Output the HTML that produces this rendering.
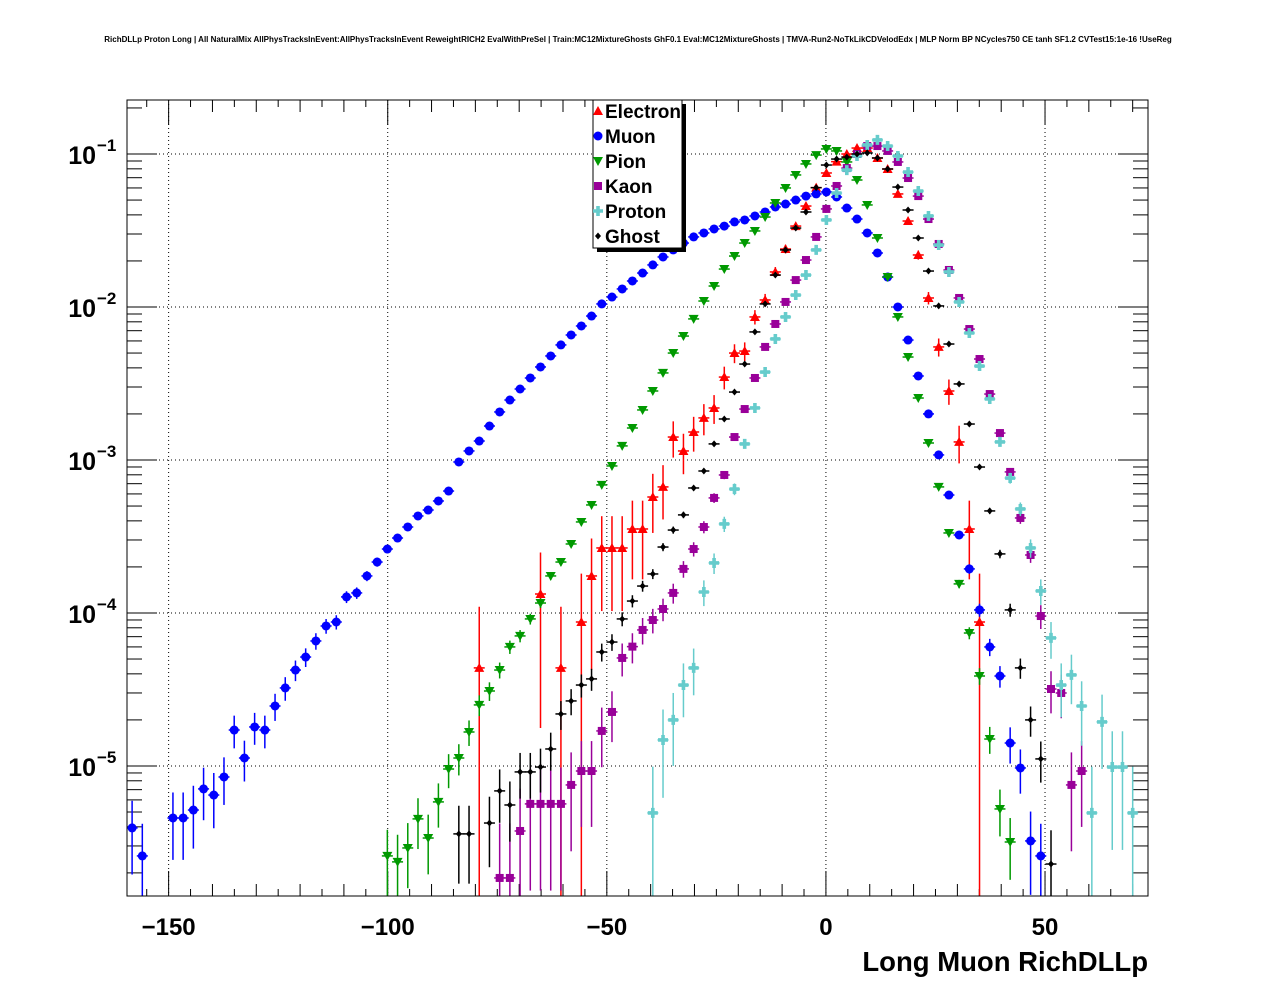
<!DOCTYPE html>
<html><head><meta charset="utf-8"><style>
body{margin:0;background:#fff;}
svg text{font-family:"Liberation Sans",sans-serif;font-weight:bold;}
</style></head><body>
<svg id="chart" width="1276" height="996" xmlns="http://www.w3.org/2000/svg">
<rect width="1276" height="996" fill="#fff"/>
<text x="638" y="42" font-size="8" text-anchor="middle">RichDLLp Proton Long | All NaturalMix AllPhysTracksInEvent:AllPhysTracksInEvent ReweightRICH2 EvalWithPreSel | Train:MC12MixtureGhosts GhF0.1 Eval:MC12MixtureGhosts | TMVA-Run2-NoTkLikCDVelodEdx | MLP Norm BP NCycles750 CE tanh SF1.2 CVTest15:1e-16 !UseReg</text>
<g id="grid"></g>
<g id="axes"></g>
<g id="marks"></g>
<rect x="127" y="100" width="1021" height="796" fill="none" stroke="#000" stroke-width="1"/>
<text x="1148" y="971" font-size="27.5" text-anchor="end">Long Muon RichDLLp</text>
<g id="legend"></g>
</svg>
<script>
// ---- data (log10 of normalized entries per bin; bin index -> x center) ----
const nBins = 100;
const xMinVal = -159.5;
const xMaxVal = 73.5;
const xTicks = [-150, -100, -50, 0, 50];
const yDecades = [-5, -4, -3, -2, -1];
const seriesNames = ["Electron","Muon","Pion","Kaon","Proton","Ghost"];
const electronStart = 34;
const electronLog10 = [-4.359,null,null,null,null,null,-3.876,null,-4.359,null,-4.059,-3.758,-3.575,-3.575,-3.575,-3.451,-3.451,-3.242,-3.176,-2.850,-2.941,-2.817,-2.725,-2.660,-2.458,-2.301,-2.288,-2.065,-1.954,-1.771,-1.621,-1.471,-1.340,-1.22,-1.124,-1.05,-1.000,-0.961,-0.961,-1.026,-1.098,-1.261,-1.438,-1.660,-1.941,-2.261,-2.549,-2.882,-3.451,-4.059];
const muonStart = 0;
const muonLog10 = [-5.405,-5.588,null,null,-5.340,-5.340,-5.288,-5.150,-5.190,-5.072,
-4.765,-4.948,-4.745,-4.765,-4.608,-4.490,-4.373,-4.288,-4.183,-4.085,
-4.059,-3.895,-3.869,-3.758,-3.667,-3.582,-3.510,-3.438,-3.366,-3.327,
-3.268,-3.203,-3.013,-2.941,-2.876,-2.778,-2.686,-2.608,-2.536,-2.464,
-2.392,-2.320,-2.248,-2.183,-2.124,-2.059,-1.980,-1.935,-1.882,-1.830,
-1.778,-1.725,-1.673,-1.627,-1.582,-1.542,-1.516,-1.490,-1.471,-1.444,
-1.431,-1.405,-1.379,-1.346,-1.327,-1.301,-1.275,-1.261,-1.248,-1.281,
-1.353,-1.425,-1.516,-1.647,-1.804,-2.000,-2.216,-2.451,-2.699,-2.967,
-3.229,-3.490,-3.712,-3.980,-4.222,-4.412,-4.850,-5.013,-5.490,-5.588];
const pionStart = 25;
const pionLog10 = [-5.588,-5.627,-5.536,-5.346,-5.471,
-5.235,-5.020,-4.948,-4.778,-4.601,-4.510,-4.373,-4.222,-4.150,-4.039,
-3.935,-3.758,-3.667,-3.549,-3.405,-3.294,-3.163,-3.039,-2.908,-2.791,
-2.673,-2.549,-2.431,-2.301,-2.190,-2.078,-1.961,-1.863,-1.752,-1.667,
-1.582,-1.503,-1.412,-1.320,-1.222,-1.137,-1.065,-1.007,-0.967,-0.980,
-1.052,-1.170,-1.333,-1.549,-1.804,-2.065,-2.327,-2.595,-2.889,-3.176,
-3.477,-3.810,-4.131,-4.412,-4.824,-5.281,-5.497];
const kaonStart = 36;
const kaonLog10 = [-5.732,-5.732,-5.425,-5.248,-5.248,-5.248,-5.248,-5.124,-5.033,-5.033,
-4.771,-4.647,-4.294,-4.22,-4.111,-4.046,-3.974,-3.869,-3.712,-3.582,
-3.438,-3.248,-3.098,-2.850,-2.667,-2.464,-2.261,-2.111,-1.967,-1.824,
-1.693,-1.542,-1.359,-1.209,-1.092,-1.000,-0.948,-0.948,-0.980,-1.052,
-1.157,-1.275,-1.425,-1.588,-1.758,-1.941,-2.144,-2.340,-2.569,-2.824,
-3.078,-3.379,-3.621,-4.020,-4.497,-4.523,-5.124,-5.033];
const protonStart = 51;
const protonLog10 = [-5.307,-4.830,-4.699,-4.471,-4.359,-3.863,-3.673,-3.418,-3.190,
-2.895,-2.660,-2.425,-2.209,-2.065,-1.922,-1.791,-1.627,-1.431,-1.255,
-1.105,-1.013,-0.941,-0.908,-0.948,-1.013,-1.118,-1.242,-1.405,-1.595,
-1.771,-1.967,-2.170,-2.386,-2.601,-2.882,-3.118,-3.320,-3.575,-3.856,
-4.163,-4.471,-4.405,-4.608,-5.307,-4.712,-5.007,-5.007,-5.307];
const ghostStart = 32;
const ghostLog10 = [-5.444,-5.444,null,-5.373,-5.163,-5.255,-5.039,-5.039,-5.007,-4.889,
-4.660,-4.575,-4.471,-4.431,-4.255,-4.190,-4.039,-3.922,-3.824,-3.745,
-3.569,-3.458,-3.359,-3.183,-3.072,-2.895,-2.732,-2.556,-2.373,-2.163,
-1.980,-1.791,-1.627,-1.484,-1.379,-1.22,-1.072,-1.033,-1.020,-1.000,
-0.993,-1.026,-1.098,-1.216,-1.366,-1.549,-1.765,-1.993,-2.242,-2.503,
-2.765,-3.046,-3.333,-3.614,-3.980,-4.359,-4.699,-4.954,-5.641];

// ---- layout ----
const X0=127, X1=1148, Y0=100, Y1=896;
const LMIN=-5.85, LMAX=-0.647;
const NS="http://www.w3.org/2000/svg";
function xs(v){return X0+(v-xMinVal)/(xMaxVal-xMinVal)*(X1-X0);}
function ys(l){return Y0+(LMAX-l)/(LMAX-LMIN)*(Y1-Y0);}
function binCenter(i){const w=(xMaxVal-xMinVal)/nBins;return xMinVal+w*(i+0.5);}
function mk(tag,attrs,parent){const e=document.createElementNS(NS,tag);for(const k in attrs)e.setAttribute(k,attrs[k]);parent.appendChild(e);return e;}
const grid=document.getElementById('grid'), axes=document.getElementById('axes'), marks=document.getElementById('marks');

xTicks.forEach(t=>{
  const x=xs(t);
  const g=mk('line',{x1:x,x2:x,y1:Y0,y2:Y1,stroke:'#000','stroke-width':1,'stroke-dasharray':'1,3'},grid);
  
  
  const lab=mk('text',{x:x,y:935,'font-size':24,'text-anchor':'middle'},axes);
  lab.textContent=(t<0?'\u2212':'')+Math.abs(t);
  
  
});
for(let v=-150; v<=70; v+=10){
  const x=xs(v); const len=(v%50===0)?25:12;
  mk('line',{x1:x,x2:x,y1:Y1,y2:Y1-len,stroke:'#000'},axes);
  mk('line',{x1:x,x2:x,y1:Y0,y2:Y0+len,stroke:'#000'},axes);
}
for(let v=-155; v<=70; v+=5){ if(v%10!==0){const x=xs(v);
  mk('line',{x1:x,x2:x,y1:Y1,y2:Y1-7,stroke:'#000'},axes);
  mk('line',{x1:x,x2:x,y1:Y0,y2:Y0+7,stroke:'#000'},axes);}}
yDecades.forEach(d=>{
  const y=ys(d);
  const g=mk('line',{x1:X0,x2:X1,y1:y,y2:y,stroke:'#000','stroke-width':1,'stroke-dasharray':'1,3'},grid);
  
  
  const lab=mk('text',{x:96,y:y+10,'font-size':25,'text-anchor':'end'},axes);
  lab.textContent='10';
  
  
  const ex=mk('text',{x:97,y:y-3,'font-size':17,'text-anchor':'start'},axes);
  ex.textContent='\u2212'+Math.abs(d);
});
for(let d=-6; d<=-1; d++){
  for(let m=1;m<=9;m++){
    const l=d+Math.log10(m); if(l<LMIN||l>LMAX) continue;
    const y=ys(l); const len=(m===1)?30:15;
    mk('line',{x1:X0,x2:X0+len,y1:y,y2:y,stroke:'#000'},axes);
    mk('line',{x1:X1,x2:X1-len,y1:y,y2:y,stroke:'#000'},axes);
  }
}

function marker(type,cx,cy,color,parent){
  if(type==='tri-up') return mk('polygon',{points:`${cx},${cy-5} ${cx-5},${cy+4} ${cx+5},${cy+4}`,fill:color},parent);
  if(type==='tri-down') return mk('polygon',{points:`${cx},${cy+5} ${cx-5},${cy-4} ${cx+5},${cy-4}`,fill:color},parent);
  if(type==='circle') return mk('circle',{cx:cx,cy:cy,r:4.5,fill:color},parent);
  if(type==='square') return mk('rect',{x:cx-4,y:cy-4,width:8,height:8,fill:color},parent);
  if(type==='cross') return mk('path',{d:`M${cx-1.8},${cy-5}h3.6v3.2h3.2v3.6h-3.2v3.2h-3.6v-3.2h-3.2v-3.6h3.2z`,fill:color},parent);
  return mk('path',{d:`M${cx},${cy-3.5}L${cx+3},${cy}L${cx},${cy+3.5}L${cx-3},${cy}z`,fill:color},parent);
}
const seriesDefs=[
  {name:'electron',start:electronStart,data:electronLog10,color:'#ff0000',m:'tri-up',c:1e-4},
  {name:'muon',start:muonStart,data:muonLog10,color:'#0000ff',m:'circle',c:1e-6},
  {name:'pion',start:pionStart,data:pionLog10,color:'#009900',m:'tri-down',c:6e-7},
  {name:'kaon',start:kaonStart,data:kaonLog10,color:'#990099',m:'square',c:3e-6},
  {name:'proton',start:protonStart,data:protonLog10,color:'#66cccc',m:'cross',c:5e-6},
  {name:'ghost',start:ghostStart,data:ghostLog10,color:'#000000',m:'diamond',c:1e-6}
];
const clip=mk('clipPath',{id:'pc'},marks); mk('rect',{x:X0,y:Y0,width:X1-X0,height:Y1-Y0},clip);
seriesDefs.forEach(s=>{
  const g=mk('g',{'clip-path':'url(#pc)'},marks);
  
  
  s.data.forEach((l,k)=>{
    if(l===null) return;
    const i=s.start+k; const cx=xs(binCenter(i)); const cy=ys(l);
    const v=Math.pow(10,l); const rel=Math.sqrt(s.c/v);
    const yTop=ys(Math.log10(v*(1+rel)));
    const yBot=rel>=0.999?Y1+5:ys(Math.log10(v*(1-rel)));
    mk('line',{x1:cx,x2:cx,y1:yTop,y2:yBot,stroke:s.color,'stroke-width':1.5},g);
    mk('line',{x1:cx-5.5,x2:cx+5.5,y1:cy,y2:cy,stroke:s.color,'stroke-width':1.5},g);
    const p=marker(s.m,cx,cy,s.color,g);
    
    
  });
});

const lg=document.getElementById('legend');
mk('rect',{x:597,y:104,width:89,height:148,fill:'#000'},lg);
mk('rect',{x:593,y:100,width:89,height:148,fill:'#fff',stroke:'#000','stroke-width':1},lg);
seriesDefs.forEach((s,k)=>{
  const y=111+25*k;
  const e=mk('g',{},lg);
  
  
  marker(s.m,598,y,s.color,e);
  const t=mk('text',{x:605,y:y+7,'font-size':19},e);
  t.textContent=seriesNames[k];
});
</script>
</body></html>
